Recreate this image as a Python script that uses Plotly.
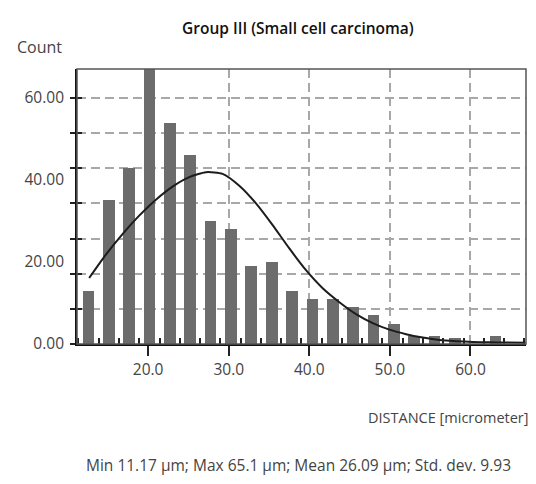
import plotly.graph_objects as go

# ---- data ----
bin_centers = [12.60, 15.13, 17.65, 20.18, 22.70, 25.23, 27.75, 30.28, 32.80, 35.33,
               37.85, 40.38, 42.90, 45.43, 47.95, 50.48, 53.00, 55.53, 58.05, 60.58, 63.10]
counts = [13, 35, 43, 68, 54, 46, 30, 28, 19, 20,
          13, 11, 11, 9, 7, 5, 2, 2, 1.5, 0, 2]

curve_x = [12.68, 14.75, 16.82, 18.89, 20.96, 23.03, 25.10, 27.17, 29.24, 31.31,
           33.38, 35.45, 37.52, 39.59, 41.66, 43.73, 45.80, 47.87, 49.94, 52.01,
           54.08, 56.15, 58.22, 60.29, 62.36, 64.43, 66.82]
curve_y = [16.1, 21.8, 26.8, 31.3, 35.2, 38.4, 40.7, 41.9, 41.5, 38.6,
           34.3, 29.0, 23.3, 18.0, 13.6, 10.2, 7.3, 5.1, 3.5, 2.4,
           1.6, 1.0, 0.7, 0.5, 0.4, 0.35, 0.3]

x_tickvals = [20, 30, 40, 50, 60]
x_ticktext = ["20.0", "30.0", "40.0", "50.0", "60.0"]
y_label_vals = [0, 20, 40, 60]
y_label_text = ["0.00", "20.00", "40.00", "60.00"]
y_grid_vals = [k * 60 / 7 for k in range(8)]

title_text = "Group III (Small cell carcinoma)"
y_title = "Count"
x_title = "DISTANCE [micrometer]"
footer = "Min 11.17 µm; Max 65.1 µm; Mean 26.09 µm; Std. dev. 9.93"

FONT = "Open Sans"
TXT = "#444444"

fig = go.Figure()
fig.add_trace(go.Bar(x=bin_centers, y=counts, width=1.45,
                     marker=dict(color="#6c6c6c", line=dict(width=0)),
                     showlegend=False, hoverinfo="skip"))
fig.add_trace(go.Scatter(x=curve_x, y=curve_y, mode="lines",
                         line=dict(color="#1c1c1c", width=2, shape="spline", smoothing=0.6),
                         showlegend=False, hoverinfo="skip"))
# invisible traces to bind overlay axes
for ax in ["y2", "y3"]:
    fig.add_trace(go.Scatter(x=curve_x, y=curve_y, yaxis=ax, mode="lines",
                             line=dict(width=0), opacity=0,
                             showlegend=False, hoverinfo="skip"))

YR = [0, 67.07]
fig.update_layout(
    width=528, height=468,
    margin=dict(l=69, r=10, t=61, b=132),
    paper_bgcolor="white", plot_bgcolor="white",
    font=dict(family=FONT, size=15, color=TXT),
    bargap=0,
    xaxis=dict(range=[11.17, 66.89], tickvals=x_tickvals, ticktext=x_ticktext,
               ticks="outside", ticklen=10, tickwidth=2, tickcolor="#222",
               showline=True, linecolor="#111", linewidth=2,
               showgrid=True, gridcolor="#a8a8a8", gridwidth=1.5, griddash="9px,5px",
               zeroline=False,
               minor=dict(ticks="inside", ticklen=6, tickwidth=1.5, tickcolor="#222",
                          tick0=13.87, dtick=2.515, showgrid=False),
               tickfont=dict(size=15.5, color=TXT)),
    yaxis=dict(range=YR, tickvals=y_grid_vals, showticklabels=False,
               ticks="outside", ticklen=5, tickwidth=2, tickcolor="#222",
               showline=True, linecolor="#111", linewidth=2,
               showgrid=True, gridcolor="#a8a8a8", gridwidth=1.5, griddash="9px,5px",
               zeroline=False),
    yaxis2=dict(range=YR, overlaying="y", anchor="x", side="left",
                tickvals=y_grid_vals, showticklabels=False,
                ticks="inside", ticklen=5, tickwidth=2, tickcolor="#222",
                showgrid=False, showline=False, zeroline=False),
    yaxis3=dict(range=YR, overlaying="y", anchor="x", side="left",
                tickvals=y_label_vals, ticktext=y_label_text, ticks="",
                ticklabelstandoff=12,
                showgrid=False, showline=False, zeroline=False,
                tickfont=dict(size=15.5, color=TXT)),
    shapes=[dict(type="rect", xref="paper", yref="paper", x0=0, y0=0, x1=1, y1=1,
                 line=dict(color="#555", width=1.5), layer="above")],
    annotations=[
        dict(text=title_text, xref="paper", yref="paper", x=0.492, y=1.149,
             xanchor="center", yanchor="middle", showarrow=False,
             font=dict(size=15.5, color="#111", weight=600)),
        dict(text=y_title, xref="paper", yref="paper", x=-0.138, y=1.08,
             xanchor="left", yanchor="middle", showarrow=False,
             font=dict(size=16, color=TXT)),
        dict(text=x_title, xref="paper", yref="paper", x=1.011, y=-0.269,
             xanchor="right", yanchor="middle", showarrow=False,
             font=dict(size=14.5, color=TXT)),
        dict(text=footer, xref="paper", yref="paper", x=0.494, y=-0.439,
             xanchor="center", yanchor="middle", showarrow=False,
             font=dict(size=15.5, color=TXT)),
    ],
)

fig.write_html("out.html")
